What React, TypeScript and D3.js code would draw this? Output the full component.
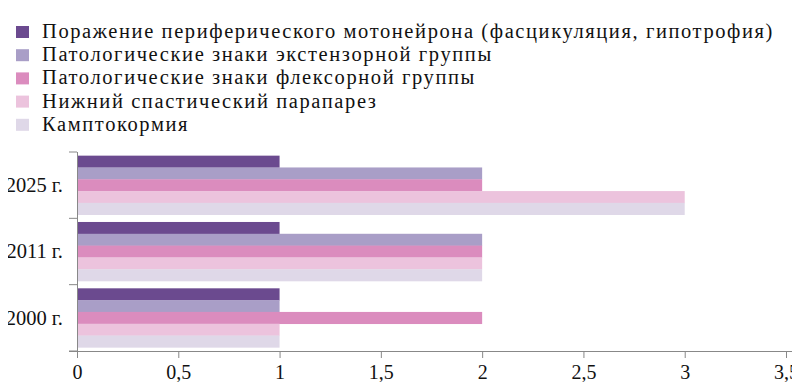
import * as d3 from "d3";
import React, { useEffect, RefObject } from "react";

const years: string[] = ["2025 г.", "2011 г.", "2000 г."];
const seriesNames: string[] = [
	"Поражение периферического мотонейрона (фасцикуляция, гипотрофия)",
	"Патологические знаки экстензорной группы",
	"Патологические знаки флексорной группы",
	"Нижний спастический парапарез",
	"Камптокормия",
];
const seriesColors: string[] = ["#6b4a8f", "#a99ec7", "#db8cbe", "#ecc3dd", "#dfd8e8"];
// values per year, in series order
const values2025: number[] = [1, 2, 2, 3, 3];
const values2011: number[] = [1, 2, 2, 2, 2];
const values2000: number[] = [1, 1, 2, 1, 1];
const xTicks: number[] = [0, 0.5, 1, 1.5, 2, 2.5, 3, 3.5];

const App = () => {
	const ref: RefObject<HTMLDivElement> = React.createRef();

	useEffect(() => draw());

	const draw = () => {
		const width = 800;
		const height = 390;
		const loff = 77;
		const right = 786;
		const top = 152;
		const bottom = 351;
		const font = "'Liberation Serif', 'Times New Roman', serif";

		d3.select(ref.current).selectAll("svg").remove();

		const svg = d3
			.select(ref.current)
			.append("svg")
			.attr("width", width)
			.attr("height", height)
			.style("display", "block");

		const rows = [
			{ year: years[0], vals: values2025 },
			{ year: years[1], vals: values2011 },
			{ year: years[2], vals: values2000 },
		];

		const xScale = d3.scaleLinear().domain([0, 3.5]).range([loff, right]);
		const yScale = d3
			.scaleBand()
			.domain(years)
			.range([top, bottom])
			.paddingInner(0.11)
			.paddingOuter(0.055);
		const inner = d3
			.scaleBand()
			.domain(seriesNames)
			.range([0, yScale.bandwidth()]);

		// bars
		rows.forEach((row) => {
			const g = svg
				.append("g")
				.attr("transform", `translate(0, ${yScale(row.year)})`);
			row.vals.forEach((v, i) => {
				g.append("rect")
					.attr("x", xScale(0))
					.attr("y", inner(seriesNames[i]) as number)
					.attr("width", xScale(v) - xScale(0))
					.attr("height", inner.bandwidth() + 0.3)
					.attr("fill", seriesColors[i]);
			});
		});

		// x axis
		const xAxis = svg
			.append("g")
			.attr("transform", `translate(0, ${bottom})`)
			.call(
				d3
					.axisBottom(xScale)
					.tickValues(xTicks)
					.tickSize(7)
					.tickPadding(7)
					.tickFormat((d) => String(d).replace(".", ","))
			);
		xAxis.select(".domain").attr("stroke", "#888").attr("d", `M${loff - 8},0.5H${right + 6}`);
		xAxis.selectAll(".tick line").attr("stroke", "#888");
		xAxis
			.selectAll(".tick text")
			.attr("fill", "#111")
			.style("font-family", font)
			.style("font-size", "20px");

		// y axis
		const yAxis = svg.append("g").attr("transform", `translate(${loff}, 0)`);
		yAxis.append("line")
			.attr("x1", 0.5)
			.attr("x2", 0.5)
			.attr("y1", top)
			.attr("y2", bottom)
			.attr("stroke", "#888");
		const bounds = d3.range(4).map((i) => top + (i * (bottom - top)) / 3);
		bounds.forEach((b) => {
			yAxis.append("line")
				.attr("x1", -8)
				.attr("x2", 0)
				.attr("y1", b)
				.attr("y2", b)
				.attr("stroke", "#888");
		});
		years.forEach((y) => {
			yAxis.append("text")
				.attr("x", -14)
				.attr("y", (yScale(y) as number) + yScale.bandwidth() / 2)
				.attr("dy", "0.34em")
				.attr("text-anchor", "end")
				.attr("fill", "#111")
				.style("font-family", font)
				.style("font-size", "20.5px")
				.text(y);
		});

		// legend
		const legend = svg.append("g");
		seriesNames.forEach((name, i) => {
			const cy = 32 + i * 23.2;
			legend.append("rect")
				.attr("x", 16)
				.attr("y", cy - 6)
				.attr("width", 13)
				.attr("height", 12)
				.attr("fill", seriesColors[i]);
			legend.append("text")
				.attr("x", 42)
				.attr("y", cy + 6)
				.attr("fill", "#111")
				.style("font-family", font)
				.style("font-size", "20.5px")
				.style("letter-spacing", "1.6px")
				.text(name);
		});
	};

	return <div ref={ref} style={{ margin: -8 }}></div>;
};

export default App;
